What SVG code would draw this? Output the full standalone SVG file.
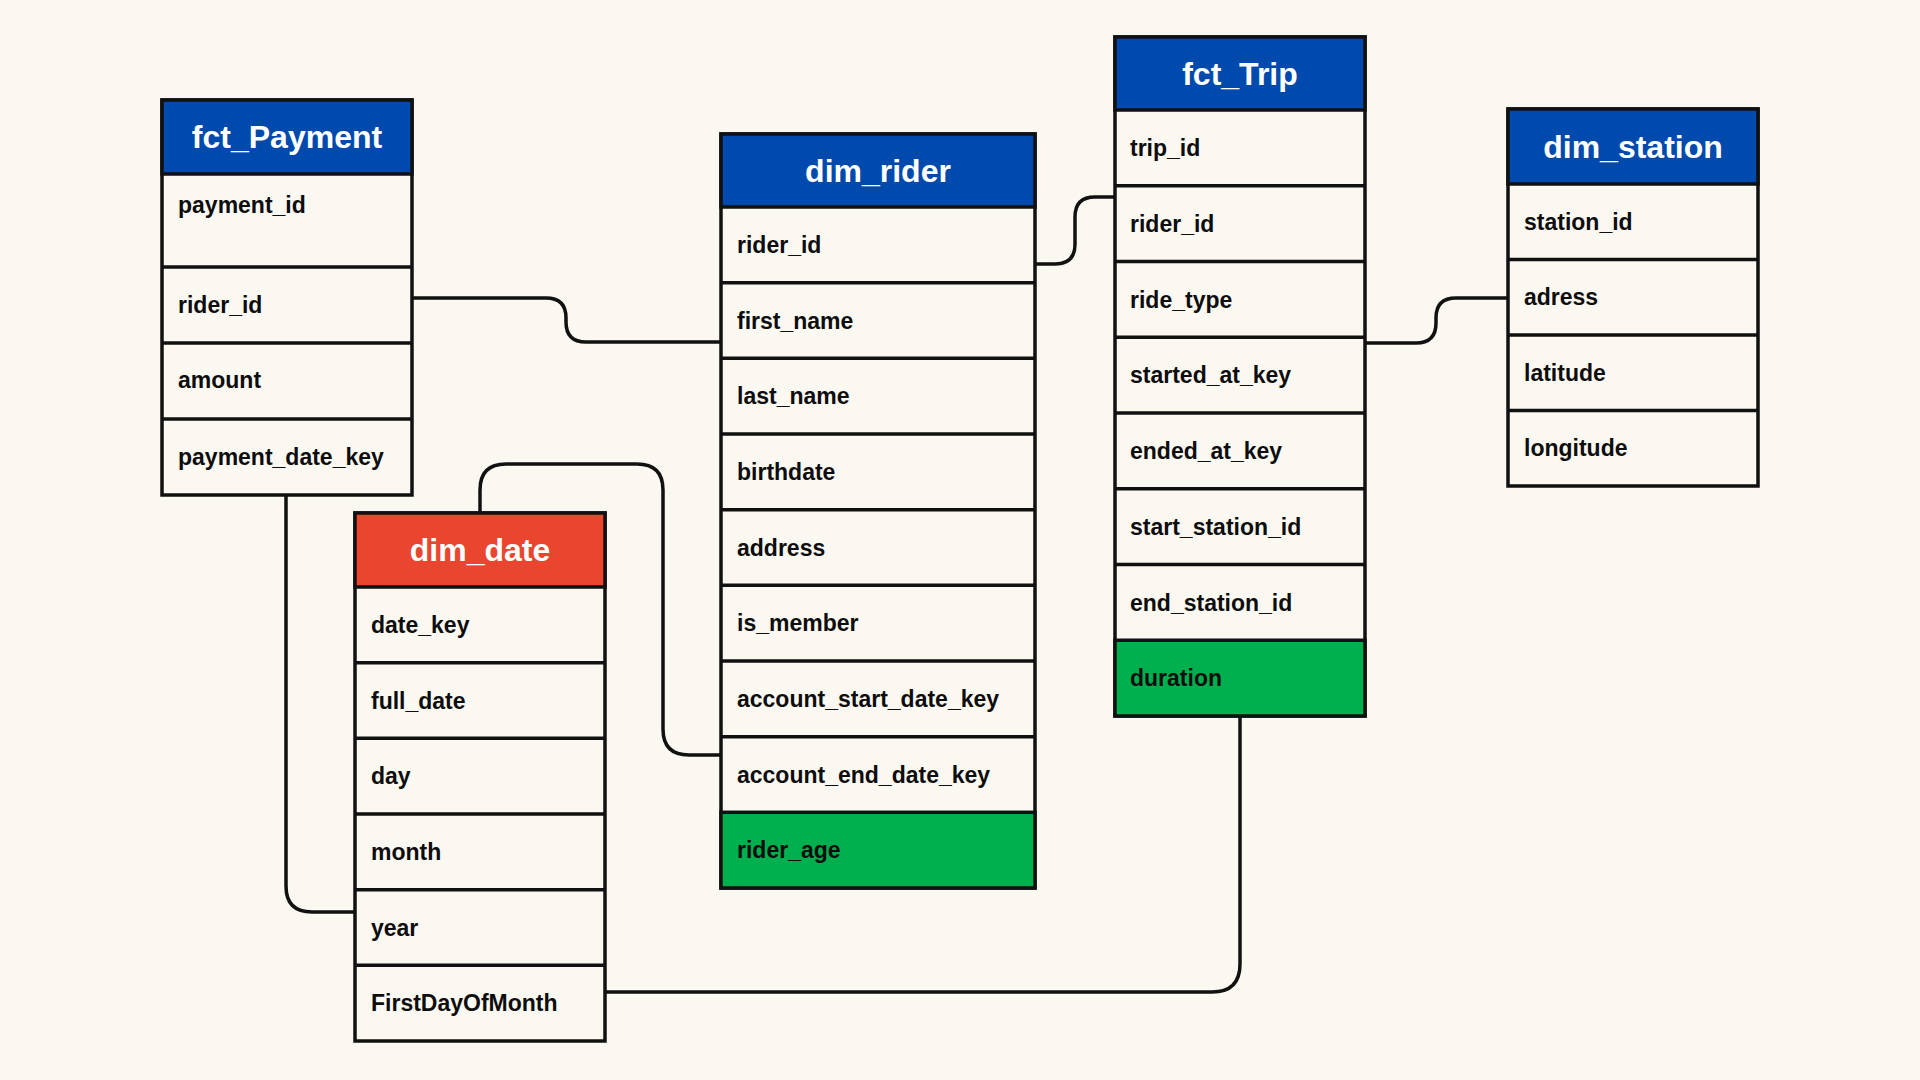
<svg xmlns="http://www.w3.org/2000/svg" width="1920" height="1080" viewBox="0 0 1920 1080">
<style>
.bg{fill:#FBF8F1}
.box{fill:#FBF8F1;stroke:#111;stroke-width:3.5}
.hdr{fill:#014AAD;stroke:#111;stroke-width:3.5}
.hdr-red{fill:#E9452F;stroke:#111;stroke-width:3.5}
.grn{fill:#00B04F;stroke:#111;stroke-width:3.5}
.sep{stroke:#111;stroke-width:3.5}
.conn{fill:none;stroke:#111;stroke-width:3.5;stroke-linejoin:round}
.t{font-family:"Liberation Sans",Arial,sans-serif;font-weight:bold;font-size:23px;fill:#0d0d0d}
.h{font-family:"Liberation Sans",Arial,sans-serif;font-weight:bold;font-size:32px;fill:#ffffff;text-anchor:middle}
</style>
<rect class="bg" x="0" y="0" width="1920" height="1080"/>

<g id="connectors">
  <path class="conn" d="M412,298 H546 Q566,298 566,318 V322 Q566,342 586,342 H721"/>
  <path class="conn" d="M1035,264 H1055 Q1075,264 1075,244 V217 Q1075,197 1095,197 H1115"/>
  <path class="conn" d="M1365,343 H1416 Q1436,343 1436,323 V318 Q1436,298 1456,298 H1508"/>
  <path class="conn" d="M480,513 V490 Q480,464 506,464 H637 Q663,464 663,490 V729 Q663,755 689,755 H721"/>
  <path class="conn" d="M286,495 V886 Q286,912 312,912 H355"/>
  <path class="conn" d="M605,992 H1212 Q1240,992 1240,964 V716"/>
</g>

<g id="fct_Payment">
  <rect class="box" x="162" y="100" width="250" height="395"/>
  <rect class="hdr" x="162" y="100" width="250" height="74"/>
  <line class="sep" x1="162" y1="267" x2="412" y2="267"/>
  <line class="sep" x1="162" y1="343" x2="412" y2="343"/>
  <line class="sep" x1="162" y1="419" x2="412" y2="419"/>
  <text class="h" x="287" y="148">fct_Payment</text>
  <text class="t" x="178" y="213">payment_id</text>
  <text class="t" x="178" y="313">rider_id</text>
  <text class="t" x="178" y="388">amount</text>
  <text class="t" x="178" y="465">payment_date_key</text>
</g>

<g id="dim_rider">
  <rect class="box" x="721" y="134" width="314" height="754"/>
  <rect class="hdr" x="721" y="134" width="314" height="73"/>
  <rect class="grn" x="721" y="812.3" width="314" height="75.7"/>
  <line class="sep" x1="721" y1="282.7" x2="1035" y2="282.7"/>
  <line class="sep" x1="721" y1="358.3" x2="1035" y2="358.3"/>
  <line class="sep" x1="721" y1="434" x2="1035" y2="434"/>
  <line class="sep" x1="721" y1="509.7" x2="1035" y2="509.7"/>
  <line class="sep" x1="721" y1="585.3" x2="1035" y2="585.3"/>
  <line class="sep" x1="721" y1="661" x2="1035" y2="661"/>
  <line class="sep" x1="721" y1="736.7" x2="1035" y2="736.7"/>
  <text class="h" x="878" y="181.5">dim_rider</text>
  <text class="t" x="737" y="253">rider_id</text>
  <text class="t" x="737" y="328.5">first_name</text>
  <text class="t" x="737" y="404">last_name</text>
  <text class="t" x="737" y="480">birthdate</text>
  <text class="t" x="737" y="555.5">address</text>
  <text class="t" x="737" y="631">is_member</text>
  <text class="t" x="737" y="707">account_start_date_key</text>
  <text class="t" x="737" y="782.5">account_end_date_key</text>
  <text class="t" x="737" y="858">rider_age</text>
</g>

<g id="fct_Trip">
  <rect class="box" x="1115" y="37" width="250" height="679"/>
  <rect class="hdr" x="1115" y="37" width="250" height="73"/>
  <rect class="grn" x="1115" y="640.25" width="250" height="75.75"/>
  <line class="sep" x1="1115" y1="185.75" x2="1365" y2="185.75"/>
  <line class="sep" x1="1115" y1="261.5" x2="1365" y2="261.5"/>
  <line class="sep" x1="1115" y1="337.25" x2="1365" y2="337.25"/>
  <line class="sep" x1="1115" y1="413" x2="1365" y2="413"/>
  <line class="sep" x1="1115" y1="488.75" x2="1365" y2="488.75"/>
  <line class="sep" x1="1115" y1="564.5" x2="1365" y2="564.5"/>
  <text class="h" x="1240" y="84.5">fct_Trip</text>
  <text class="t" x="1130" y="156">trip_id</text>
  <text class="t" x="1130" y="231.5">rider_id</text>
  <text class="t" x="1130" y="307.5">ride_type</text>
  <text class="t" x="1130" y="383">started_at_key</text>
  <text class="t" x="1130" y="459">ended_at_key</text>
  <text class="t" x="1130" y="534.5">start_station_id</text>
  <text class="t" x="1130" y="610.5">end_station_id</text>
  <text class="t" x="1130" y="686">duration</text>
</g>

<g id="dim_station">
  <rect class="box" x="1508" y="109" width="250" height="377"/>
  <rect class="hdr" x="1508" y="109" width="250" height="75"/>
  <line class="sep" x1="1508" y1="259.5" x2="1758" y2="259.5"/>
  <line class="sep" x1="1508" y1="335" x2="1758" y2="335"/>
  <line class="sep" x1="1508" y1="410.5" x2="1758" y2="410.5"/>
  <text class="h" x="1633" y="157.5">dim_station</text>
  <text class="t" x="1524" y="229.5">station_id</text>
  <text class="t" x="1524" y="305">adress</text>
  <text class="t" x="1524" y="380.5">latitude</text>
  <text class="t" x="1524" y="456">longitude</text>
</g>

<g id="dim_date">
  <rect class="box" x="355" y="513" width="250" height="528"/>
  <rect class="hdr-red" x="355" y="513" width="250" height="74"/>
  <line class="sep" x1="355" y1="662.7" x2="605" y2="662.7"/>
  <line class="sep" x1="355" y1="738.3" x2="605" y2="738.3"/>
  <line class="sep" x1="355" y1="814" x2="605" y2="814"/>
  <line class="sep" x1="355" y1="889.7" x2="605" y2="889.7"/>
  <line class="sep" x1="355" y1="965.3" x2="605" y2="965.3"/>
  <text class="h" x="480" y="561">dim_date</text>
  <text class="t" x="371" y="633">date_key</text>
  <text class="t" x="371" y="708.5">full_date</text>
  <text class="t" x="371" y="784">day</text>
  <text class="t" x="371" y="860">month</text>
  <text class="t" x="371" y="935.5">year</text>
  <text class="t" x="371" y="1011">FirstDayOfMonth</text>
</g>
</svg>
